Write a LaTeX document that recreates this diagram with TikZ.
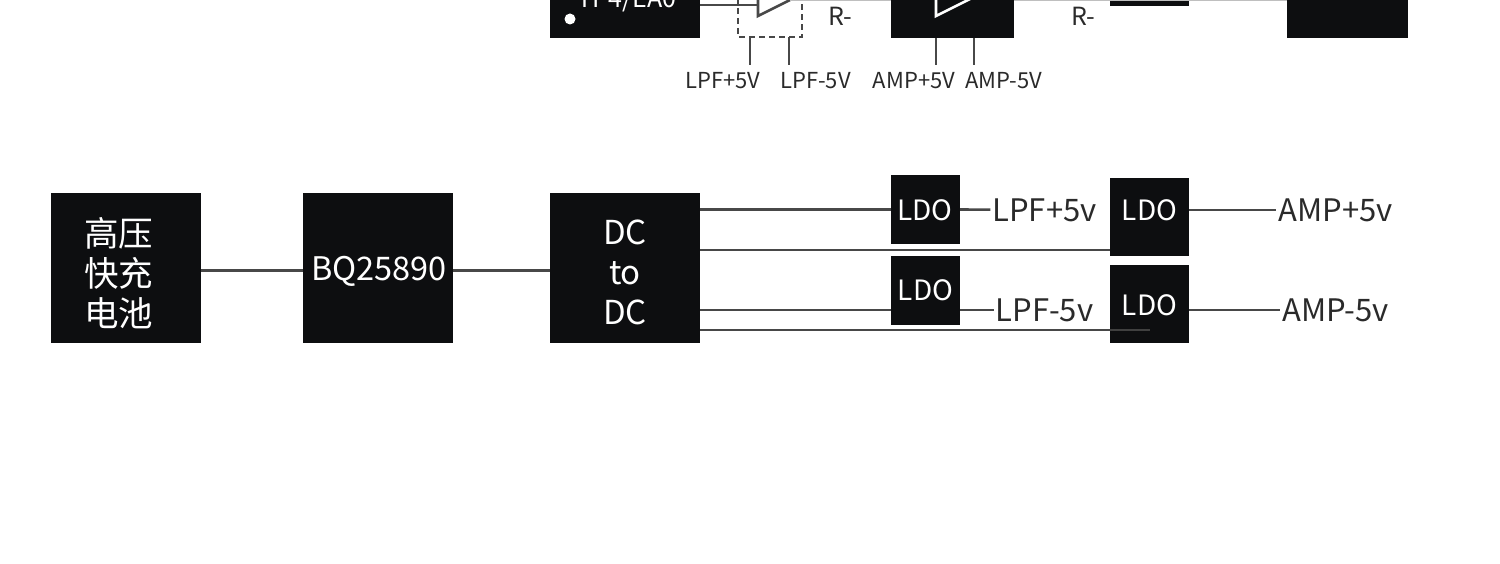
\documentclass[tikz,border=0pt]{standalone}
\usepackage{fontspec}
\setmainfont{Noto Sans CJK SC}
\usetikzlibrary{positioning}
\definecolor{boxblack}{HTML}{0D0E10}
\definecolor{wiregray}{HTML}{484848}
\definecolor{txtgray}{HTML}{2A2A2A}
\tikzset{
  x=1pt, y=-1pt,
  blk/.style    ={fill=boxblack, draw=none, inner sep=0pt, outer sep=0pt, text=white, align=center, minimum width=150pt, minimum height=150pt, font=\fontsize{33}{40}\selectfont},
  blktxt/.style ={inner sep=0pt, text=white, align=center, font=\fontsize{33}{40}\selectfont},
  ldo/.style    ={blk, minimum width=69pt, minimum height=69pt, font=\fontsize{28}{32}\selectfont},
  ldotall/.style={ldo, minimum width=79pt, minimum height=78pt},
  lbl/.style    ={inner sep=0pt, outer sep=2pt, text=txtgray, font=\fontsize{31}{34}\selectfont},
  lblsm/.style  ={inner sep=0pt, text=txtgray, font=\fontsize{22}{25}\selectfont},
  wire/.style   ={draw=wiregray, line width=2.6pt},
  hair/.style   ={draw=black!25, line width=1.5pt},
  opamp/.style  ={line width=2.6pt},
}
\begin{document}
\begin{tikzpicture}
  \path[use as bounding box, clip] (0,0) rectangle (1500,564);
  \fill[white] (0,0) rectangle (1500,564);
  % upper part, cut by the page edge
  \node[blk, minimum height=76pt] (tp) at (625,0) {};
  \node[anchor=base, text=white, inner sep=0pt, font=\fontsize{25}{28}\selectfont] (tpname) at (627,8) {TP4/EA0};
  \node[circle, fill=white, inner sep=0pt, minimum size=11pt] (tpdot) at (570,19) {};
  \node[blk, minimum width=123pt, minimum height=76pt] (amp) at (952.5,0) {};
  \node[blk, minimum width=79pt, minimum height=12pt] (outa) at (1149.5,0) {};
  \node[blk, minimum width=121pt, minimum height=76pt] (outb) at (1347.5,0) {};
  \coordinate (lpfin) at (758,5);
  \coordinate (lpfa) at (750,37);
  \coordinate (lpfb) at (789,37);
  \coordinate (lpfaend) at (750,65);
  \coordinate (lpfbend) at (789,65);
  \coordinate (ampa) at (936,65);
  \coordinate (ampb) at (974,65);
  \coordinate (topa) at (790,0);
  \draw[wire] (tp.east |- lpfin) -- (lpfin);
  \draw[opamp, draw=wiregray] (758,-5) -- (758,16) -- (796,-3);
  \draw[opamp, draw=white] (936,-5) -- (936,16) -- (974,-3);
  \draw[wire, line width=2pt, dash pattern=on 6pt off 4pt] (738,-2) -- (738,37) -- (802,37) -- (802,-2);
  \draw[hair] (topa) -- (amp.north west |- topa);
  \draw[hair] (amp.north east |- topa) -- (outb.north west |- topa);
  \draw[wire] (lpfa) -- (lpfaend);
  \draw[wire] (lpfb) -- (lpfbend);
  \draw[wire] (amp.south -| ampa) -- (ampa);
  \draw[wire] (amp.south -| ampb) -- (ampb);
  \node[lblsm] (lpfplus) at (723,80.5) {LPF+5V};
  \node[lblsm] (lpfminus) at (815.5,80.5) {LPF-5V};
  \node[lblsm] (ampplus) at (914,80.5) {AMP+5V};
  \node[lblsm] (ampminus) at (1004,80.5) {AMP-5V};
  \node[lblsm, font=\fontsize{25}{28}\selectfont] (rmina) at (840.5,16) {R-};
  \node[lblsm, font=\fontsize{25}{28}\selectfont] (rminb) at (1083,16) {R-};
  % power chain
  \node[blk] (bat) at (126,268) {};
  \node[blk, right=102pt of bat] (chg) {};
  \node[blk, right=97pt of chg] (dcdc) {};
  \node[blktxt, font=\fontsize{34.5}{40}\selectfont] (batname) at (118.5,273.5) {高压\\快充\\电池};
  \node[blktxt, font=\fontsize{32.5}{40}\selectfont] (chgname) at (379,271) {BQ25890};
  \node[blktxt] (dcdcname) at (625,272.5) {DC\\to\\DC};
  \node[ldo] (ldoa) at (925.5,209.5) {};
  \node[ldo] (ldob) at (925.5,290.5) {LDO};
  \node[ldotall] (ldoc) at (1149.5,217) {};
  \node[ldotall] (ldod) at (1149.5,304) {};
  \node[blktxt, font=\fontsize{28}{32}\selectfont] (ldoatxt) at (925,210.5) {LDO};
  \node[blktxt, font=\fontsize{28}{32}\selectfont] (ldoctxt) at (1149.5,210.5) {LDO};
  \node[blktxt, font=\fontsize{28}{32}\selectfont] (ldodtxt) at (1149.5,305) {LDO};
  \node[lbl] (lpfp) at (1044.5,210) {LPF+5v};
  \node[lbl] (lpfm) at (1044.5,310) {LPF-5v};
  \node[lbl] (ampp) at (1335.5,210) {AMP+5v};
  \node[lbl] (ampm) at (1335.5,310) {AMP-5v};
  \coordinate (mid) at (450,270.5);
  \coordinate (taba) at (700,250);
  \coordinate (tabb) at (700,310);
  \coordinate (tabc) at (700,330);
  \coordinate (inner) at (1150,330);
  \draw[wire] (bat.east |- mid) -- (chg.west |- mid);
  \draw[wire] (chg.east |- mid) -- (dcdc.west |- mid);
  \draw[wire] (dcdc.east |- ldoa) -- (ldoa.west);
  \draw[wire] (taba) -- (ldoc.west |- taba);
  \draw[wire] (tabb) -- (ldob.west |- tabb);
  \draw[wire] (tabc) -- (ldod.west |- tabc);
  \draw[draw=black!75, line width=1.5pt] (ldod.west |- tabc) -- (inner);
  \draw[wire] (ldoa.east) -- (lpfp);
  \draw[wire] (ldob.east |- lpfm) -- (lpfm);
  \draw[wire] (ldoc.east |- ampp) -- (ampp);
  \draw[wire] (ldod.east |- ampm) -- (ampm);
\end{tikzpicture}
\end{document}
